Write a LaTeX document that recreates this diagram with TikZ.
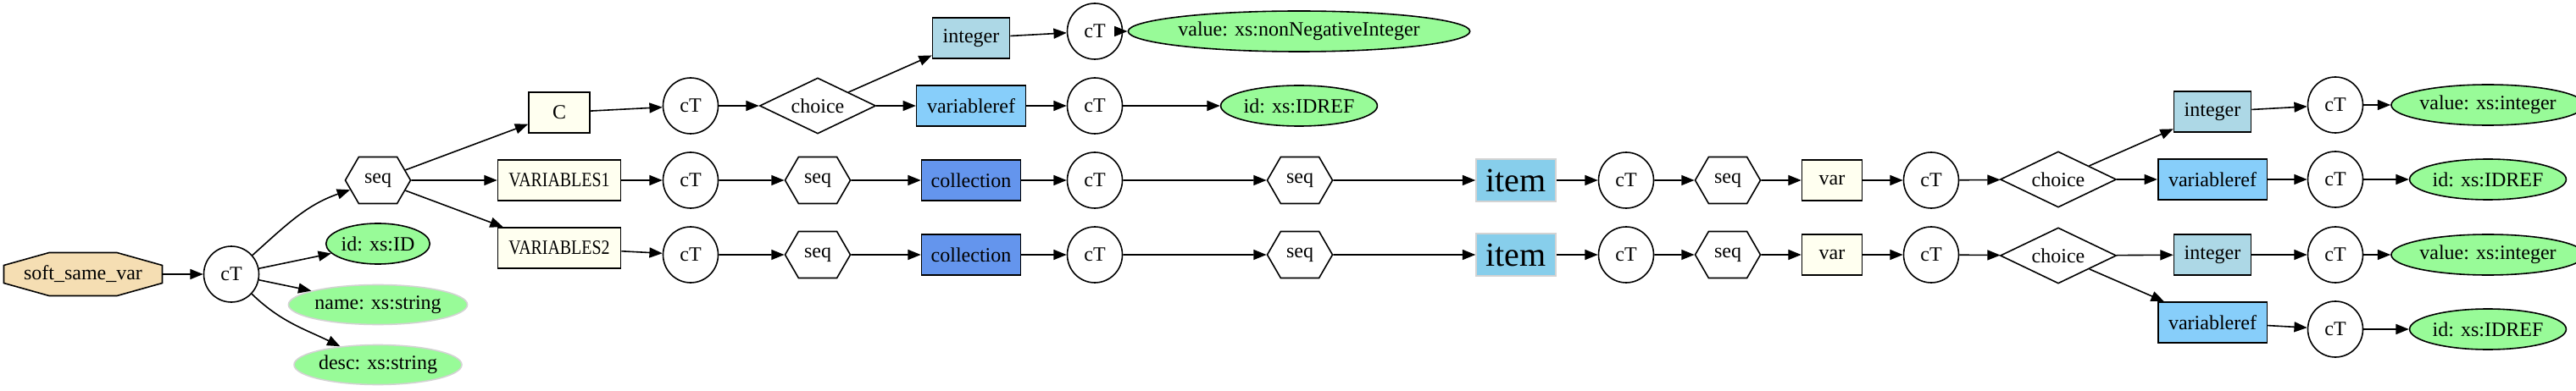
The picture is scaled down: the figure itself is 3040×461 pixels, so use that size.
\documentclass[tikz,border=0pt]{standalone}
\usepackage{fontspec}
\setmainfont{Liberation Serif}
\usepackage{graphicx}
\usetikzlibrary{shapes.geometric,shapes.symbols,arrows.meta}
\definecolor{wheatc}{HTML}{F5DEB3}
\definecolor{ivoryc}{HTML}{FFFFF0}
\definecolor{lightbluec}{HTML}{ADD8E6}
\definecolor{lskyc}{HTML}{87CEFA}
\definecolor{skyc}{HTML}{87CEEB}
\definecolor{cornc}{HTML}{6495ED}
\definecolor{palegreenc}{HTML}{98FB98}
\definecolor{lgreyc}{HTML}{D3D3D3}
\tikzset{
  base/.style={inner sep=0pt, line width=1.2pt, font=\fontsize{18}{21}\selectfont},
  ctnode/.style={base, ellipse, draw, minimum width=48.75pt, minimum height=49.5pt},
  seqnode/.style={base, signal, signal to=west and east, signal pointer angle=120, draw, minimum width=57.75pt, minimum height=41.25pt},
  choicenode/.style={base, diamond, aspect=2.08, draw, minimum width=102.75pt, minimum height=49.5pt},
  elembox/.style={base, rectangle, draw, fill=ivoryc, minimum height=36pt},
  intbox/.style={base, rectangle, draw, fill=lightbluec, minimum width=68.25pt, minimum height=36pt},
  vrefbox/.style={base, rectangle, draw, fill=lskyc, minimum width=96.5pt, minimum height=36pt},
  collbox/.style={base, rectangle, draw, fill=cornc, minimum width=87.75pt, minimum height=36pt},
  itembox/.style={base, rectangle, draw=lgreyc, fill=skyc, minimum width=70.5pt, minimum height=37.5pt, font=\fontsize{30}{34}\selectfont},
  attr/.style={base, ellipse, draw, fill=palegreenc, minimum height=36pt},
  attrg/.style={base, ellipse, draw=lgreyc, fill=palegreenc, minimum height=35.25pt},
  conn/.style={line width=1.2pt, -{Triangle[length=11.5pt,width=9pt]}},
}
\begin{document}
\begin{tikzpicture}[x=0.75pt,y=0.75pt]
\useasboundingbox (0,0) rectangle (3040,461);
% root octagon
\draw[line width=1.2pt, fill=wheatc] (4.5,147.5) -- (58,162.5) -- (138,162.5) -- (191.5,147.5) -- (191.5,126.5) -- (138,111.5) -- (58,111.5) -- (4.5,126.5) -- cycle;
\node[base, minimum width=140.25pt, minimum height=38.25pt] (root) at (98,137) {soft\_same\_var};
\node[ctnode] (cT1) at (273,137) {cT};
\node[seqnode] (seq1) at (446,248) {seq};
\node[attr, minimum width=84pt] (idID) at (446,173) {id: xs:ID};
\node[attrg, minimum width=138pt] (name) at (446,101) {name: xs:string};
\node[attrg, minimum width=129.75pt] (desc) at (446,30) {desc: xs:string};
% top branch C
\node[elembox, minimum width=54pt] (C) at (660,328) {C};
\node[elembox, minimum width=108.75pt] (V1) at (660,248) {\scalebox{0.83}[1]{VARIABLES1}};
\node[elembox, minimum width=108.75pt] (V2) at (660,168) {\scalebox{0.83}[1]{VARIABLES2}};
\node[ctnode] (cTc) at (815,336) {cT};
\node[choicenode] (chc) at (965,336) {choice};
\node[intbox] (intc) at (1146,416) {integer};
\node[vrefbox] (vrefc) at (1146,336) {variableref};
\node[ctnode] (cTi) at (1292,424) {cT};
\node[attr, minimum width=240pt] (valnn) at (1533,424) {value: xs:nonNegativeInteger};
\node[ctnode] (cTv) at (1292,336) {cT};
\node[attr, minimum width=114pt] (idrefc) at (1533,336) {id: xs:IDREF};
% row A
\node[ctnode] (cTa1) at (815,248) {cT};
\node[seqnode] (seqa1) at (965,248) {seq};
\node[collbox] (colla) at (1146,248) {collection};
\node[ctnode] (cTa2) at (1292,248) {cT};
\node[seqnode] (seqa2) at (1534,248) {seq};
\node[itembox] (itema) at (1789,248) {item};
\node[ctnode] (cTa3) at (1919,248) {cT};
\node[seqnode] (seqa3) at (2039,248) {seq};
\node[elembox, minimum width=53.25pt] (vara) at (2162,248) {var};
\node[ctnode] (cTa4) at (2279,248) {cT};
\node[choicenode] (cha) at (2429,249) {choice};
\node[intbox] (inta) at (2611,329) {integer};
\node[ctnode] (cTa5) at (2756,337) {cT};
\node[attr, minimum width=147pt] (vala) at (2936,337) {value: xs:integer};
\node[vrefbox] (vrefa) at (2611,249) {variableref};
\node[ctnode] (cTa6) at (2756,249) {cT};
\node[attr, minimum width=114pt] (idrefa) at (2936,249) {id: xs:IDREF};
% row B
\node[ctnode] (cTb1) at (815,160) {cT};
\node[seqnode] (seqb1) at (965,160) {seq};
\node[collbox] (collb) at (1146,160) {collection};
\node[ctnode] (cTb2) at (1292,160) {cT};
\node[seqnode] (seqb2) at (1534,160) {seq};
\node[itembox] (itemb) at (1789,160) {item};
\node[ctnode] (cTb3) at (1919,160) {cT};
\node[seqnode] (seqb3) at (2039,160) {seq};
\node[elembox, minimum width=53.25pt] (varb) at (2162,160) {var};
\node[ctnode] (cTb4) at (2279,160) {cT};
\node[choicenode] (chb) at (2429,159) {choice};
\node[intbox] (intb) at (2611,160) {integer};
\node[ctnode] (cTb5) at (2756,160) {cT};
\node[attr, minimum width=147pt] (valb) at (2936,160) {value: xs:integer};
\node[vrefbox] (vrefb) at (2611,80) {variableref};
\node[ctnode] (cTb6) at (2756,72) {cT};
\node[attr, minimum width=114pt] (idrefb) at (2936,72) {id: xs:IDREF};
% connectors
\draw[conn] (root) -- (cT1);
\draw[conn] (cT1) to[out=42,in=199] (seq1);
\draw[conn] (cT1) -- (idID);
\draw[conn] (cT1) -- (name);
\draw[conn] (cT1) to[out=-44,in=154] (desc);
\draw[conn] (seq1) -- (C);
\draw[conn] (seq1) -- (V1);
\draw[conn] (seq1) -- (V2);
\draw[conn] (C) -- (cTc);
\draw[conn] (cTc) -- (chc);
\draw[conn] (chc) -- (intc);
\draw[conn] (chc) -- (vrefc);
\draw[conn] (intc) -- (cTi);
\draw[conn] (cTi) -- (valnn);
\draw[conn] (vrefc) -- (cTv);
\draw[conn] (cTv) -- (idrefc);
\draw[conn] (V1) -- (cTa1);
\draw[conn] (cTa1) -- (seqa1);
\draw[conn] (seqa1) -- (colla);
\draw[conn] (colla) -- (cTa2);
\draw[conn] (cTa2) -- (seqa2);
\draw[conn] (seqa2) -- (itema);
\draw[conn] (itema) -- (cTa3);
\draw[conn] (cTa3) -- (seqa3);
\draw[conn] (seqa3) -- (vara);
\draw[conn] (vara) -- (cTa4);
\draw[conn] (cTa4) -- (cha);
\draw[conn] (cha) -- (inta);
\draw[conn] (inta) -- (cTa5);
\draw[conn] (cTa5) -- (vala);
\draw[conn] (cha) -- (vrefa);
\draw[conn] (vrefa) -- (cTa6);
\draw[conn] (cTa6) -- (idrefa);
\draw[conn] (V2) -- (cTb1);
\draw[conn] (cTb1) -- (seqb1);
\draw[conn] (seqb1) -- (collb);
\draw[conn] (collb) -- (cTb2);
\draw[conn] (cTb2) -- (seqb2);
\draw[conn] (seqb2) -- (itemb);
\draw[conn] (itemb) -- (cTb3);
\draw[conn] (cTb3) -- (seqb3);
\draw[conn] (seqb3) -- (varb);
\draw[conn] (varb) -- (cTb4);
\draw[conn] (cTb4) -- (chb);
\draw[conn] (chb) -- (intb);
\draw[conn] (intb) -- (cTb5);
\draw[conn] (cTb5) -- (valb);
\draw[conn] (chb) -- (vrefb);
\draw[conn] (vrefb) -- (cTb6);
\draw[conn] (cTb6) -- (idrefb);
\end{tikzpicture}
\end{document}
